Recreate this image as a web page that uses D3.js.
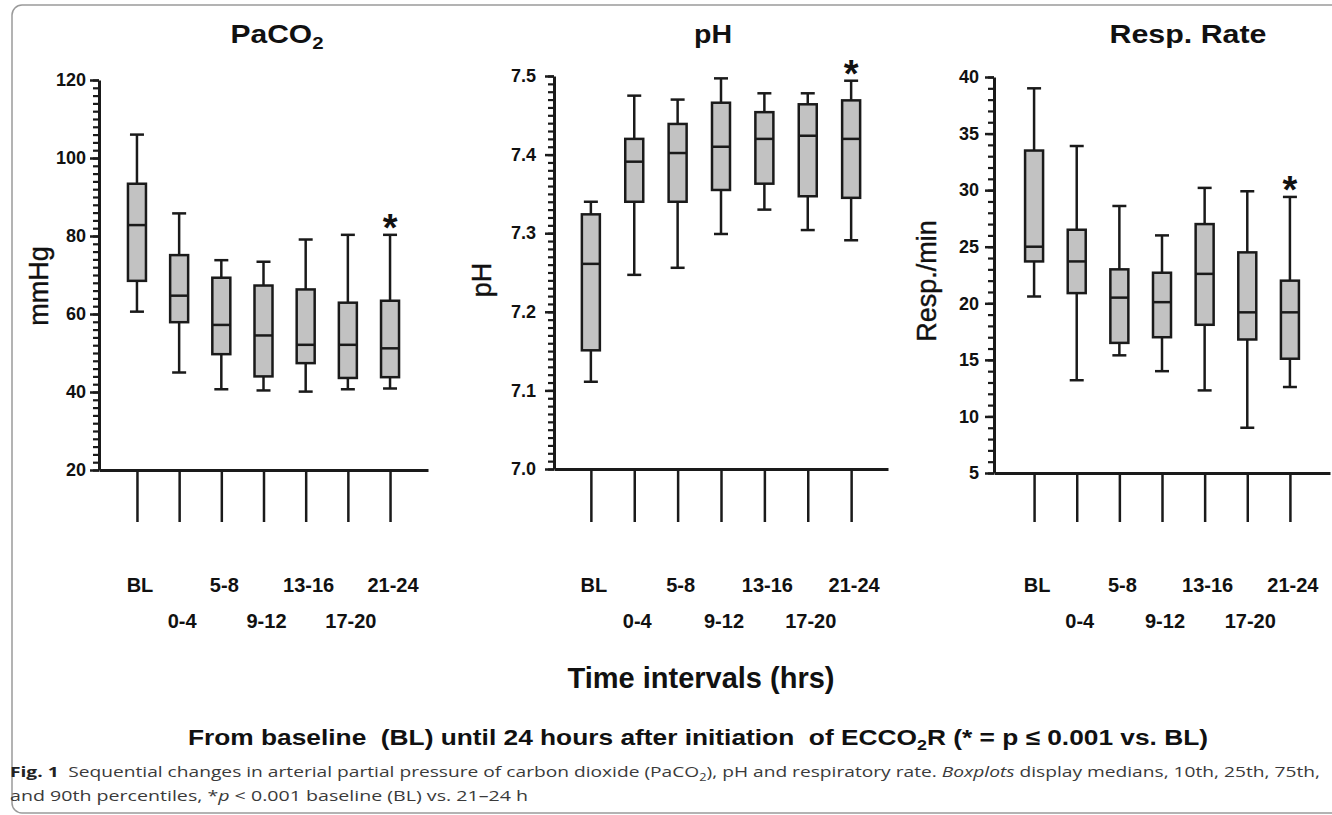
<!DOCTYPE html>
<head>
  <title>Sequential changes PaCO2, pH, Resp. Rate</title>
  <style>
    body { margin: 0; background: #fff; }
    svg text { font-family: "Liberation Sans", Arial, sans-serif; fill: #111; }
    .yaxis path, .yaxis line, .xaxis path, .xaxis line { stroke: #1a1a1a; }
    .caption text, text.caption { font-family: "Open Sans", sans-serif; fill: #3a3a3a; }
  </style>
</head>
<body>
<script src="https://d3js.org/d3.v7.min.js"></script>
<script>
  // data: 10th, 25th, median, 75th, 90th percentiles
  var categories = ["BL", "0-4", "5-8", "9-12", "13-16", "17-20", "21-24"];
  var starred = ["21-24"];

  var paco2P10 = [60.6, 45.0, 40.7, 40.4, 40.1, 40.7, 40.9];
  var paco2P25 = [68.5, 57.9, 49.7, 44.0, 47.4, 43.6, 43.8];
  var paco2Med = [82.8, 64.7, 57.2, 54.5, 52.1, 52.1, 51.2];
  var paco2P75 = [93.4, 75.1, 69.3, 67.3, 66.3, 62.9, 63.4];
  var paco2P90 = [106.0, 85.8, 73.8, 73.4, 79.1, 80.3, 80.3];
  var paco2Ticks = [20, 40, 60, 80, 100, 120];

  var phP10 = [7.111, 7.247, 7.256, 7.299, 7.330, 7.304, 7.291];
  var phP25 = [7.151, 7.340, 7.340, 7.355, 7.363, 7.347, 7.345];
  var phMed = [7.261, 7.391, 7.402, 7.410, 7.420, 7.424, 7.420];
  var phP75 = [7.324, 7.420, 7.439, 7.466, 7.454, 7.464, 7.469];
  var phP90 = [7.340, 7.475, 7.470, 7.497, 7.478, 7.478, 7.494];
  var phTicks = [7.0, 7.1, 7.2, 7.3, 7.4, 7.5];

  var respP10 = [20.6, 13.2, 15.4, 14.0, 12.3, 9.0, 12.6];
  var respP25 = [23.7, 20.9, 16.5, 17.0, 18.1, 16.8, 15.1];
  var respMed = [25.0, 23.7, 20.5, 20.1, 22.6, 19.2, 19.2];
  var respP75 = [33.5, 26.5, 23.0, 22.7, 27.0, 24.5, 22.0];
  var respP90 = [39.0, 33.9, 28.6, 26.0, 30.2, 29.9, 29.4];
  var respTicks = [5, 10, 15, 20, 25, 30, 35, 40];

  // layout
  var svg_width = 1332, svg_height = 815;
  var box_w = 18, cap_w = 14;
  var tick_bottom = 522;

  var panels = [
    { title: "PaCO", sub: "2", titleX: 277, titleW: 93, label: "mmHg", labelX: 48, labelY: 286,
      p10: paco2P10, p25: paco2P25, med: paco2Med, p75: paco2P75, p90: paco2P90,
      domain: [20, 120], yr: [470, 80], ticks: paco2Ticks, minor: 50, fmt: d3.format("d"),
      x0: 99, x1: 428, pad: 0.9, tickPad: 5 },
    { title: "pH", sub: "", titleX: 713, titleW: 38, label: "pH", labelX: 491, labelY: 280,
      p10: phP10, p25: phP25, med: phMed, p75: phP75, p90: phP90,
      domain: [7.0, 7.5], yr: [469, 76], ticks: phTicks, minor: 50, fmt: d3.format(".1f"),
      x0: 554, x1: 888, pad: 0.85, tickPad: 10 },
    { title: "Resp. Rate", sub: "", titleX: 1188, titleW: 157, label: "Resp./min", labelX: 936, labelY: 281,
      p10: respP10, p25: respP25, med: respMed, p75: respP75, p90: respP90,
      domain: [5, 40], yr: [473, 77], ticks: respTicks, minor: 35, fmt: d3.format("d"),
      x0: 994, x1: 1330, pad: 0.94, tickPad: 7 }
  ];

  var svg = d3.select("body")
    .append("svg")
    .attr("width", svg_width)
    .attr("height", svg_height);

  // outer frame
  svg.append("rect")
    .attr("x", 12).attr("y", 5)
    .attr("width", 1340).attr("height", 808)
    .attr("rx", 10)
    .attr("fill", "none")
    .attr("stroke", "#9a9a9a")
    .attr("stroke-width", 1.5);

  panels.forEach(function (p) {
    var g = svg.append("g");

    var y = d3.scaleLinear().domain(p.domain).range(p.yr);
    var x = d3.scalePoint().domain(categories).range([p.x0, p.x1]).padding(p.pad);

    // minor ticks
    var mn = g.append("g")
      .attr("class", "yaxis")
      .attr("transform", "translate(" + p.x0 + ",0)")
      .call(d3.axisLeft(y).ticks(p.minor).tickSize(6).tickSizeOuter(0).tickFormat(""));
    mn.select(".domain").remove();
    mn.selectAll("line").attr("stroke-width", 2.2);

    // major ticks + labels
    var ya = g.append("g")
      .attr("class", "yaxis")
      .attr("transform", "translate(" + p.x0 + ",0)")
      .call(d3.axisLeft(y).tickValues(p.ticks).tickSize(9).tickSizeOuter(0).tickPadding(p.tickPad - 1).tickFormat(p.fmt));
    ya.select(".domain").attr("stroke-width", 3);
    ya.selectAll("line").attr("stroke-width", 2.5);
    ya.selectAll("text")
      .attr("font-family", "Liberation Sans, Arial, sans-serif")
      .attr("font-size", 18)
      .attr("font-weight", "bold")
      .attr("fill", "#111");

    // x axis with long ticks
    var xa = g.append("g")
      .attr("class", "xaxis")
      .attr("transform", "translate(0," + p.yr[0] + ")")
      .call(d3.axisBottom(x).tickSize(tick_bottom - p.yr[0]).tickSizeOuter(0).tickFormat(""));
    xa.select(".domain").attr("stroke-width", 3);
    xa.selectAll("line").attr("stroke-width", 2.5);

    // category labels in two staggered rows
    g.selectAll(".cat")
      .data(categories)
      .enter()
      .append("text")
      .attr("class", "cat")
      .attr("x", function (d) { return x(d) + 3; })
      .attr("y", function (d, i) { return i % 2 === 0 ? 592 : 628; })
      .attr("text-anchor", "middle")
      .attr("font-size", 20)
      .attr("font-weight", "bold")
      .text(function (d) { return d; });

    // boxplots
    var rows = categories.map(function (c, i) {
      return { cat: c, lo: p.p10[i], q1: p.p25[i], med: p.med[i], q3: p.p75[i], hi: p.p90[i] };
    });
    var bx = g.selectAll(".box").data(rows).enter().append("g").attr("class", "box");

    bx.append("line")
      .attr("x1", function (d) { return x(d.cat); })
      .attr("x2", function (d) { return x(d.cat); })
      .attr("y1", function (d) { return y(d.hi); })
      .attr("y2", function (d) { return y(d.lo); })
      .attr("stroke", "#1a1a1a").attr("stroke-width", 2.5);

    bx.selectAll(".cap")
      .data(function (d) { return [d.hi, d.lo].map(function (v) { return { cat: d.cat, v: v }; }); })
      .enter()
      .append("line")
      .attr("x1", function (d) { return x(d.cat) - cap_w / 2; })
      .attr("x2", function (d) { return x(d.cat) + cap_w / 2; })
      .attr("y1", function (d) { return y(d.v); })
      .attr("y2", function (d) { return y(d.v); })
      .attr("stroke", "#1a1a1a").attr("stroke-width", 2.5);

    bx.append("rect")
      .attr("x", function (d) { return x(d.cat) - box_w / 2; })
      .attr("y", function (d) { return y(d.q3); })
      .attr("width", box_w)
      .attr("height", function (d) { return y(d.q1) - y(d.q3); })
      .attr("fill", "#c2c2c2")
      .attr("stroke", "#1a1a1a").attr("stroke-width", 2.5);

    bx.append("line")
      .attr("x1", function (d) { return x(d.cat) - box_w / 2; })
      .attr("x2", function (d) { return x(d.cat) + box_w / 2; })
      .attr("y1", function (d) { return y(d.med); })
      .attr("y2", function (d) { return y(d.med); })
      .attr("stroke", "#1a1a1a").attr("stroke-width", 2.5);

    // significance marker
    g.selectAll(".star")
      .data(rows.filter(function (d) { return starred.indexOf(d.cat) >= 0; }))
      .enter()
      .append("text")
      .attr("x", function (d) { return x(d.cat); })
      .attr("y", function (d) { return y(d.hi) - 16 + 22; })
      .attr("text-anchor", "middle")
      .attr("font-size", 38)
      .attr("font-weight", "bold")
      .text("*");

    // title
    var t = g.append("text")
      .attr("x", p.titleX)
      .attr("y", 43)
      .attr("text-anchor", "middle")
      .attr("font-size", 25)
      .attr("font-weight", "bold")
      .attr("textLength", p.titleW)
      .attr("lengthAdjust", "spacingAndGlyphs");
    t.append("tspan").text(p.title);
    if (p.sub) t.append("tspan").attr("font-size", 17).attr("dy", 6).text(p.sub);

    // y label
    g.append("text")
      .attr("transform", "translate(" + p.labelX + "," + p.labelY + ") rotate(-90)")
      .attr("text-anchor", "middle")
      .attr("font-size", 27)
      .attr("stroke", "#111")
      .attr("stroke-width", 0.4)
      .text(p.label);
  });

  // shared x label
  svg.append("text")
    .attr("x", 701).attr("y", 688)
    .attr("text-anchor", "middle")
    .attr("font-size", 29)
    .attr("font-weight", "bold")
    .text("Time intervals (hrs)");

  var f = svg.append("text")
    .attr("x", 698).attr("y", 745)
    .attr("text-anchor", "middle")
    .attr("font-size", 22)
    .attr("font-weight", "bold")
    .attr("textLength", 1020)
    .attr("lengthAdjust", "spacingAndGlyphs")
    .style("white-space", "pre");
  f.append("tspan").text("From baseline  (BL) until 24 hours after initiation  of ECCO");
  f.append("tspan").attr("font-size", 15).attr("dy", 5).text("2");
  f.append("tspan").attr("dy", -5).text("R (* = p \u2264 0.001 vs. BL)");

  // figure caption
  var c1 = svg.append("text")
    .attr("class", "caption")
    .attr("x", 10).attr("y", 777)
    .attr("font-size", 15)
    .attr("textLength", 1310)
    .attr("lengthAdjust", "spacingAndGlyphs");
  c1.append("tspan").attr("font-weight", "bold").attr("fill", "#222").text("Fig. 1");
  c1.append("tspan").text("\u2002Sequential changes in arterial partial pressure of carbon dioxide (PaCO");
  c1.append("tspan").attr("font-size", 10).attr("dy", 4).text("2");
  c1.append("tspan").attr("dy", -4).text("), pH and respiratory rate. ");
  c1.append("tspan").attr("font-style", "italic").text("Boxplots");
  c1.append("tspan").text(" display medians, 10th, 25th, 75th,");

  var c2 = svg.append("text")
    .attr("class", "caption")
    .attr("x", 10).attr("y", 801)
    .attr("font-size", 15)
    .attr("textLength", 518)
    .attr("lengthAdjust", "spacingAndGlyphs");
  c2.append("tspan").text("and 90th percentiles, *");
  c2.append("tspan").attr("font-style", "italic").text("p");
  c2.append("tspan").text(" < 0.001 baseline (BL) vs. 21\u201324 h");
</script>
</body>
